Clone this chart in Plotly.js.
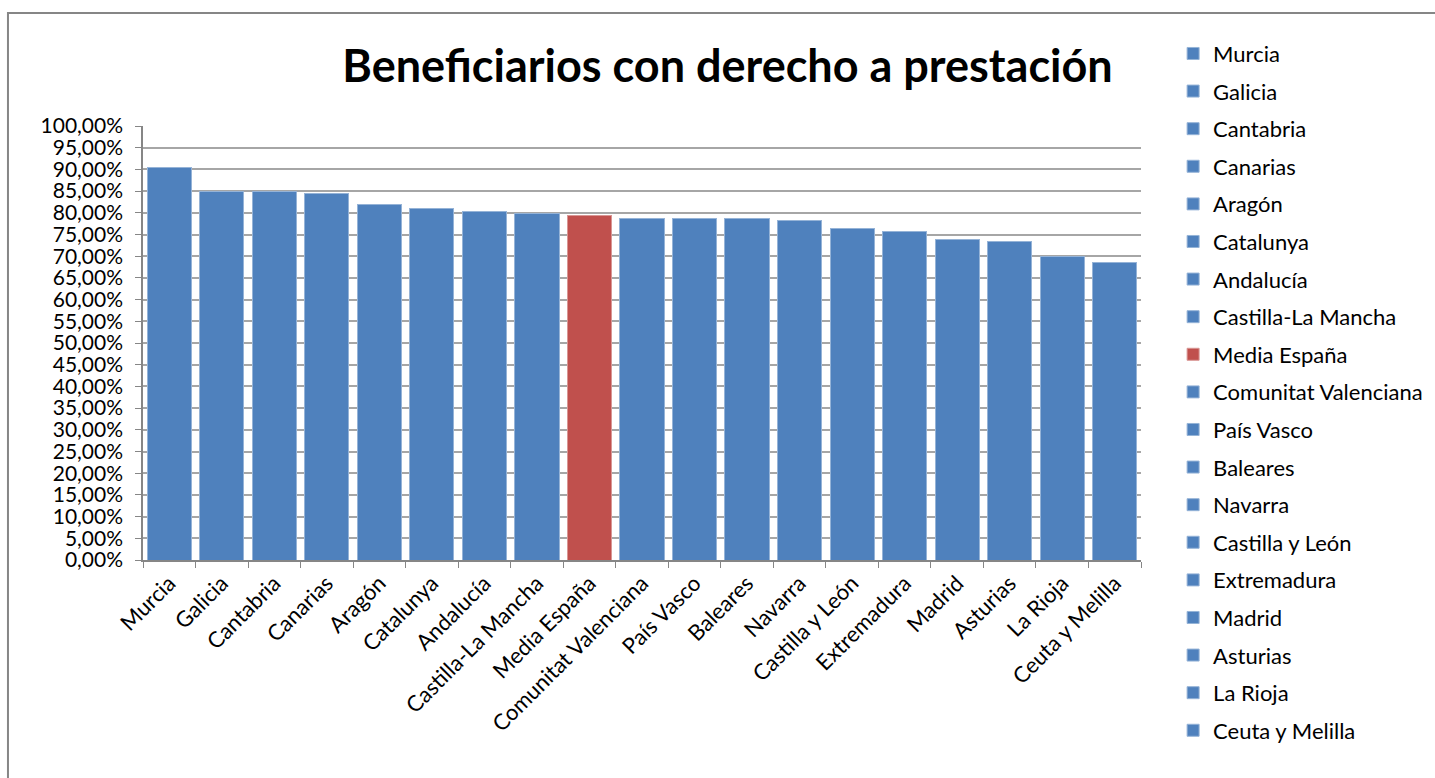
<!DOCTYPE html>
<html><head><meta charset="utf-8">
<script src="https://cdn.plot.ly/plotly-3.0.1.min.js"></script>
<style>html,body{margin:0;padding:0;background:#fff}#chart{width:1435px;height:778px}</style>
</head><body><div id="chart"></div>
<script>
const categories = ["Murcia","Galicia","Cantabria","Canarias","Aragón","Catalunya","Andalucía","Castilla-La Mancha","Media España","Comunitat Valenciana","País Vasco","Baleares","Navarra","Castilla y León","Extremadura","Madrid","Asturias","La Rioja","Ceuta y Melilla"];
const values = [0.905,0.850,0.849,0.844,0.820,0.811,0.803,0.799,0.794,0.788,0.786,0.786,0.783,0.763,0.756,0.739,0.734,0.699,0.686];
const highlight = "Media España";
const yTickVals = [0,0.05,0.10,0.15,0.20,0.25,0.30,0.35,0.40,0.45,0.50,0.55,0.60,0.65,0.70,0.75,0.80,0.85,0.90,0.95,1.00];

const FONT = "Lato, 'Open Sans', sans-serif";
const traces = categories.map((c, i) => ({
  type: 'bar',
  x: [c],
  y: [values[i]],
  name: c,
  legendgroup: 'g' + i,
  marker: {color: c === highlight ? '#C0504D' : '#4F81BD', line: {color: c === highlight ? '#d99694' : '#95b3d7', width: 1}},
  hoverinfo: 'x+y'
}));

const layout = {
  width: 1435, height: 778,
  paper_bgcolor: '#ffffff', plot_bgcolor: '#ffffff',
  separators: ',.',
  font: {family: FONT, color: '#000000', size: 22},
  title: {text: '<b>Beneficiarios con derecho a prestación</b>', font: {family: FONT, size: 45, color: '#000'}, x: 0.507, xanchor: 'center', y: 0.915, yanchor: 'middle', xref: 'container', yref: 'container'},
  margin: {l: 143, r: 294, t: 126, b: 218},
  barmode: 'stack',
  bargap: 0.16,
  showlegend: true,
  legend: {xref: 'container', yref: 'container', x: 0.8175, y: 0.958, xanchor: 'left', yanchor: 'top', maxheight: 1, font: {family: FONT, size: 22, color: '#000'}, tracegroupgap: 6, itemwidth: 30, bgcolor: 'rgba(0,0,0,0)'},
  xaxis: {
    type: 'category', categoryorder: 'array', categoryarray: categories,
    tickangle: -45, tickfont: {family: FONT, size: 22, color: '#000'},
    showline: true, linecolor: '#868686', linewidth: 1.5,
    ticks: 'outside', tickson: 'boundaries', ticklen: 6, tickcolor: '#868686',
    showgrid: false
  },
  yaxis: {
    range: [0, 1], tickvals: yTickVals, tickformat: '.2%',
    tickfont: {family: FONT, size: 21, color: '#000'},
    ticklabelstandoff: 8,
    showline: true, linecolor: '#868686', linewidth: 1.5,
    ticks: 'outside', ticklen: 6, tickcolor: '#868686',
    showgrid: true, gridcolor: '#a6a6a6', gridwidth: 1.5, zeroline: false
  },
  shapes: [{type: 'rect', xref: 'paper', yref: 'paper', x0: -0.1353, x1: 2, y0: -2, y1: 1.2604, line: {color: '#868686', width: 2}, fillcolor: 'rgba(0,0,0,0)', layer: 'below'}]
};

Plotly.newPlot('chart', traces, layout, {displayModeBar: false});
</script></body></html>
